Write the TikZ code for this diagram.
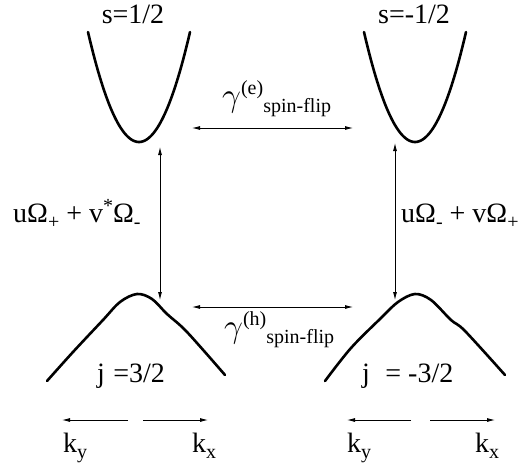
\documentclass[tikz,border=0pt]{standalone}
\usepackage{graphicx}
\usepackage{fontspec}
\setmainfont{Liberation Serif}
\usetikzlibrary{arrows.meta}
\newcommand{\smallsz}{\fontsize{20}{23}\selectfont}
\newcommand{\lo}[1]{\raisebox{-0.22em}{\smallsz #1}}
\newcommand{\hi}[1]{\raisebox{0.35em}{\smallsz #1}}
\newcommand{\biggam}{\scalebox{1.35}{$\gamma$}}
\begin{document}
\begin{tikzpicture}[x=1pt,y=-1pt,
  band/.style={line width=2.6pt,line cap=round},
  arr/.style={line width=0.8pt,{Latex[length=8pt,width=4pt]}-{Latex[length=8pt,width=4pt]}},
  sarr/.style={line width=0.8pt,-{Latex[length=8pt,width=4pt]}},
  lab/.style={font=\fontsize{28}{32}\selectfont,inner sep=0pt,anchor=base west}]
\useasboundingbox (0,0) rectangle (530,466);
% conduction bands
\draw[band] plot[domain=-51:51,samples=60] ({139+\x},{142-110/2601*\x*\x});
\draw[band] plot[domain=-51:51,samples=60] ({415+\x},{142-110/2601*\x*\x});
% valence bands
\draw[band] plot[smooth,tension=0.55] coordinates {(47,381) (73,352) (103,320) (120,302) (137,294) (152,299) (167,314) (187,332) (225,375)};
\draw[band] plot[smooth,tension=0.55] coordinates {(325,381) (351,348) (381,318) (398,302) (415,294) (431,300) (451,320) (465,331) (505,375)};
% labels
\node[lab,anchor=base] (s1) at (133,23) {s=1/2};
\node[lab,anchor=base] (s2) at (414,23) {s=-1/2};
\node[lab] (j1) at (97,382) {j\hspace{0.3em}=3/2};
\node[lab] (j2) at (362,382) {j\hspace{0.3em} = -3/2};
\node[lab] (o1) at (13,222) {uΩ\lo{+} + v\hi{*}Ω\lo{-}};
\node[lab] (o2) at (401,222) {uΩ\lo{-} + vΩ\lo{+}};
\node[lab] (ge) at (222,106) {\biggam\raisebox{0.42em}{\smallsz(e)}\raisebox{-0.22em}{\smallsz spin-flip}};
\node[lab] (gh) at (224,337) {\biggam\raisebox{0.42em}{\smallsz(h)}\raisebox{-0.22em}{\smallsz spin-flip}};
% transition arrows
\coordinate (a1) at (160,147); \coordinate (b1) at (160,300);
\coordinate (a2) at (395,143); \coordinate (b2) at (395,300);
\draw[arr] (a1) -- (b1);
\draw[arr] (a2) -- (b2);
\coordinate (c1) at (192,128); \coordinate (c2) at (353,128);
\coordinate (d1) at (192,307); \coordinate (d2) at (353,307);
\draw[arr] (c1) -- (c2);
\draw[arr] (d1) -- (d2);
% k axes
\coordinate (k1a) at (128,420); \coordinate (k1b) at (62,420);
\coordinate (k1c) at (143,420); \coordinate (k1d) at (208,420);
\coordinate (k2a) at (411,420); \coordinate (k2b) at (347,420);
\coordinate (k2c) at (430,420); \coordinate (k2d) at (495,420);
\draw[sarr] (k1a) -- (k1b);
\draw[sarr] (k1c) -- (k1d);
\draw[sarr] (k2a) -- (k2b);
\draw[sarr] (k2c) -- (k2d);
\node[lab] (ky1) at (63,452) {k\lo{y}};
\node[lab] (kx1) at (192,452) {k\lo{x}};
\node[lab] (ky2) at (347,452) {k\lo{y}};
\node[lab] (kx2) at (475,452) {k\lo{x}};
\end{tikzpicture}
\end{document}
